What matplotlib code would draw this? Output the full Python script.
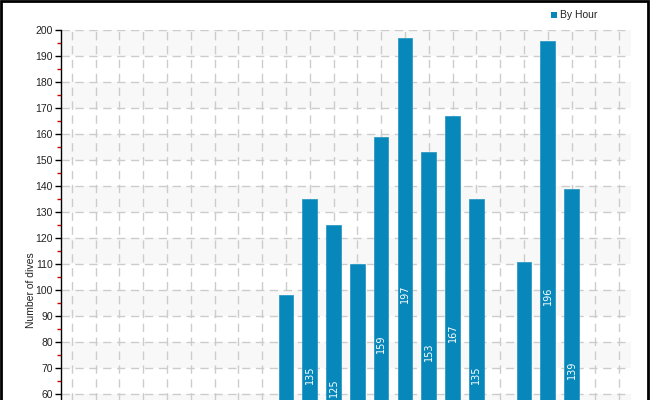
import matplotlib
matplotlib.use("Agg")
import matplotlib.pyplot as plt
from matplotlib.patches import Rectangle
import numpy as np

hours = list(range(24))
dives = [0, 0, 0, 0, 0, 2, 8, 20, 45, 98, 135, 125, 110, 159, 197, 153, 167, 135, 40, 111, 196, 139, 0, 0]
series_name = "By Hour"
y_label = "Number of dives"

bar_color = "#0787BA"

fig = plt.figure(figsize=(6.5, 4.0), dpi=100)
W, H = 650, 400
# axes placed so that the lower part of the chart falls outside the image (as in the reference crop)
ax = fig.add_axes([61 / W, (400 - 550.3) / H, (631 - 61) / W, 520 / H])
ax.set_xlim(-0.45, 23.5)
ax.set_ylim(0, 200)
visible_min = 60  # lowest value visible in the cropped picture

# alternating bands
for lo in range(50, 200, 20):
    ax.axhspan(lo, lo + 10, color="#F8F8F8", zorder=0, lw=0)

ax.set_yticks(np.arange(visible_min, 201, 10))
ax.set_yticks(np.arange(visible_min - 5, 200, 10), minor=True)
ax.set_xticks(hours)
ax.grid(True, which="major", color="#CCCCCC", linestyle=(0, (6, 4)), linewidth=1, zorder=1)
ax.set_axisbelow(True)

bars = ax.bar(hours, dives, width=0.62, color=bar_color, zorder=3, edgecolor="#2E9BC6", linewidth=0.6)
for h, v in zip(hours, dives):
    # only labels that reach into the visible part of the chart
    if v / 2 >= visible_min - 8:
        ax.text(h, v / 2, str(v), rotation=90, ha="center", va="center",
                color="white", fontsize=7, zorder=4)

for s in ["top", "right", "bottom"]:
    ax.spines[s].set_visible(False)
ax.spines["left"].set_color("black")
ax.spines["left"].set_linewidth(1)
ax.tick_params(axis="y", which="major", direction="out", length=4, width=1, color="black",
               labelsize=7, pad=2, labelcolor="#222222")
for lab in ax.get_yticklabels():
    lab.set_family("Liberation Sans")
    lab.set_fontsize(7.5)
ax.tick_params(axis="y", which="minor", direction="out", length=3, width=1, color="#DD0000")
ax.tick_params(axis="x", which="both", length=0, labelbottom=False)

fig.text(31 / W, (400 - 290) / H, y_label, rotation=90, fontsize=7.5, color="#222222",
         ha="center", va="center", family="Liberation Sans")

# legend
fig.patches.append(Rectangle((551 / W, (400 - 18) / H), 6 / W, 6 / H, transform=fig.transFigure,
                             facecolor=bar_color, edgecolor="none"))
fig.text(560 / W, (400 - 15) / H, series_name, fontsize=7.5, va="center", ha="left", color="#222222",
         family="Liberation Sans")

# figure border (left, top, right)
fig.patches.append(Rectangle((1 / W, -0.5), (W - 3) / W, (400 - 1) / H + 0.5,
                             transform=fig.transFigure, facecolor="none",
                             edgecolor="black", linewidth=2, zorder=10))

fig.savefig("out.png", dpi=100)
